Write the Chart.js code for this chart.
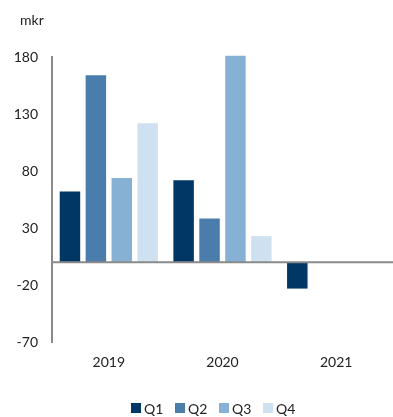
<!DOCTYPE html>
<html>
<head>
<meta charset="utf-8">
<script src="https://cdn.jsdelivr.net/npm/chart.js@4/dist/chart.umd.min.js"></script>
<style>
  html, body { margin: 0; padding: 0; background: #fff; }
  #wrap { position: relative; width: 393px; height: 417px; font-family: Lato, "Open Sans", sans-serif; }
  #legend { position: absolute; left: 0; top: 400px; width: 393px; height: 16px; }
  .item { position: absolute; top: 0; height: 16px; display: flex; align-items: center; font-size: 14px; color: #222; }
  .swatch { width: 10px; height: 10px; margin-right: 3px; }
</style>
</head>
<body>
<div id="wrap">
  <canvas id="c" width="393" height="417"></canvas>
  <div id="legend"></div>
</div>
<script>
// Quarterly figures, mkr
const years = ['2019', '2020', '2021'];
const q1 = [62, 72, -23];
const q2 = [164, 38.5, null];
const q3 = [74, 181, null];
const q4 = [122, 23, null];
const seriesNames = ['Q1', 'Q2', 'Q3', 'Q4'];
const seriesColors = ['#003764', '#4a7dab', '#86b0d4', '#cfe1f0'];
const unitLabel = 'mkr';
const yMin = -70, yMax = 180, yStep = 50;

const FONT = 'Lato, "Open Sans", sans-serif';
const TEXT = '#222222';
const AXIS = '#8a8a8a';

// Horizontal baseline at zero and the unit label above the value axis
const extras = {
  id: 'extras',
  afterDatasetsDraw(chart) {
    const { ctx, chartArea, scales } = chart;
    const y0 = scales.y.getPixelForValue(0);
    ctx.save();
    ctx.strokeStyle = AXIS;
    ctx.lineWidth = 2;
    ctx.beginPath();
    ctx.moveTo(chartArea.left, y0);
    ctx.lineTo(chartArea.right, y0);
    ctx.stroke();
    ctx.fillStyle = TEXT;
    ctx.font = '14px ' + FONT;
    ctx.textBaseline = 'middle';
    ctx.textAlign = 'left';
    ctx.fillText(unitLabel, 20, 20);
    ctx.restore();
  }
};

const values = [q1, q2, q3, q4];
new Chart(document.getElementById('c'), {
  type: 'bar',
  data: {
    labels: years,
    datasets: values.map((v, i) => ({
      label: seriesNames[i],
      data: v,
      backgroundColor: seriesColors[i],
      borderWidth: 0,
      clip: false,
      categoryPercentage: 0.912,
      barPercentage: 0.79
    }))
  },
  options: {
    responsive: false,
    animation: false,
    layout: { padding: { top: 57, right: 0, left: 0, bottom: 34 } },
    plugins: {
      legend: { display: false },
      tooltip: { enabled: false }
    },
    scales: {
      x: {
        grid: { display: false, drawTicks: false },
        border: { display: false },
        ticks: { color: TEXT, padding: 12, font: { family: FONT, size: 14 } }
      },
      y: {
        min: yMin,
        max: yMax,
        ticks: { stepSize: yStep, color: TEXT, padding: 14, font: { family: FONT, size: 14 } },
        grid: { display: false, drawTicks: false },
        border: { display: true, color: AXIS, width: 2 },
        afterFit(scale) { scale.width = 52; }
      }
    }
  },
  plugins: [extras]
});

// Series key below the chart
const legend = document.getElementById('legend');
seriesNames.forEach((name, i) => {
  const item = document.createElement('div');
  item.className = 'item';
  item.style.left = (131 + i * 44) + 'px';
  const sw = document.createElement('span');
  sw.className = 'swatch';
  sw.style.background = seriesColors[i];
  const label = document.createElement('span');
  label.textContent = name;
  item.appendChild(sw);
  item.appendChild(label);
  legend.appendChild(item);
});
</script>
</body>
</html>
